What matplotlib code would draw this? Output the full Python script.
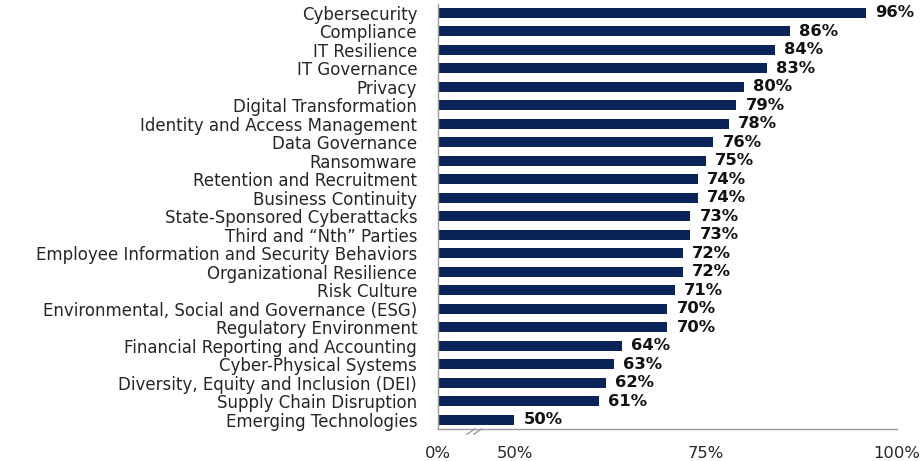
import matplotlib.pyplot as plt
from matplotlib.transforms import blended_transform_factory

# 数据
topics = ['Cybersecurity', 'Compliance', 'IT Resilience', 'IT Governance', 'Privacy',
          'Digital Transformation', 'Identity and Access Management', 'Data Governance',
          'Ransomware', 'Retention and Recruitment', 'Business Continuity',
          'State-Sponsored Cyberattacks', 'Third and \u201cNth\u201d Parties',
          'Employee Information and Security Behaviors', 'Organizational Resilience',
          'Risk Culture', 'Environmental, Social and Governance (ESG)',
          'Regulatory Environment', 'Financial Reporting and Accounting',
          'Cyber-Physical Systems', 'Diversity, Equity and Inclusion (DEI)',
          'Supply Chain Disruption', 'Emerging Technologies']
values = [96, 86, 84, 83, 80, 79, 78, 76, 75, 74, 74, 73, 73, 72, 72, 71, 70, 70, 64, 63, 62, 61, 50]
tick_pos = [40, 50, 75, 100]
tick_text = ['0%', '50%', '75%', '100%']

bar_color = '#0b2457'
axis_color = '#9a9a9a'
text_color = '#262626'

plt.rcParams['font.family'] = ['DejaVu Sans']

fig = plt.figure(figsize=(9.23, 4.61), dpi=100)
ax = fig.add_axes([0.4745, 0.0694, 0.4973, 0.923])

ypos = list(range(len(topics)))
ax.barh(ypos, values, height=0.56, color=bar_color, left=0)
ax.set_xlim(40, 100)
ax.set_ylim(len(topics) - 0.5, -0.5)

# 数值标签
for y, v in zip(ypos, values):
    ax.text(v + 1.2, y, '%d%%' % v, va='center', ha='left', fontsize=11.8,
            fontweight='bold', color='#111111')

ax.set_yticks(ypos)
ax.set_yticklabels(topics, fontsize=12, color=text_color)
ax.tick_params(axis='y', length=0, pad=15)
ax.set_xticks(tick_pos)
ax.set_xticklabels(tick_text, fontsize=11.8, color=text_color)
ax.tick_params(axis='x', length=0, pad=12)

for s in ['top', 'right']:
    ax.spines[s].set_visible(False)
for s in ['left', 'bottom']:
    ax.spines[s].set_color(axis_color)
    ax.spines[s].set_linewidth(1)

# 断轴标记
tr = blended_transform_factory(ax.transData, ax.transAxes)
for dx in [0, 0.9]:
    ax.plot([43.8 + dx, 44.8 + dx], [-0.012, 0.0], transform=tr, color=axis_color,
            lw=1, clip_on=False)

plt.savefig('out.png', dpi=100)
